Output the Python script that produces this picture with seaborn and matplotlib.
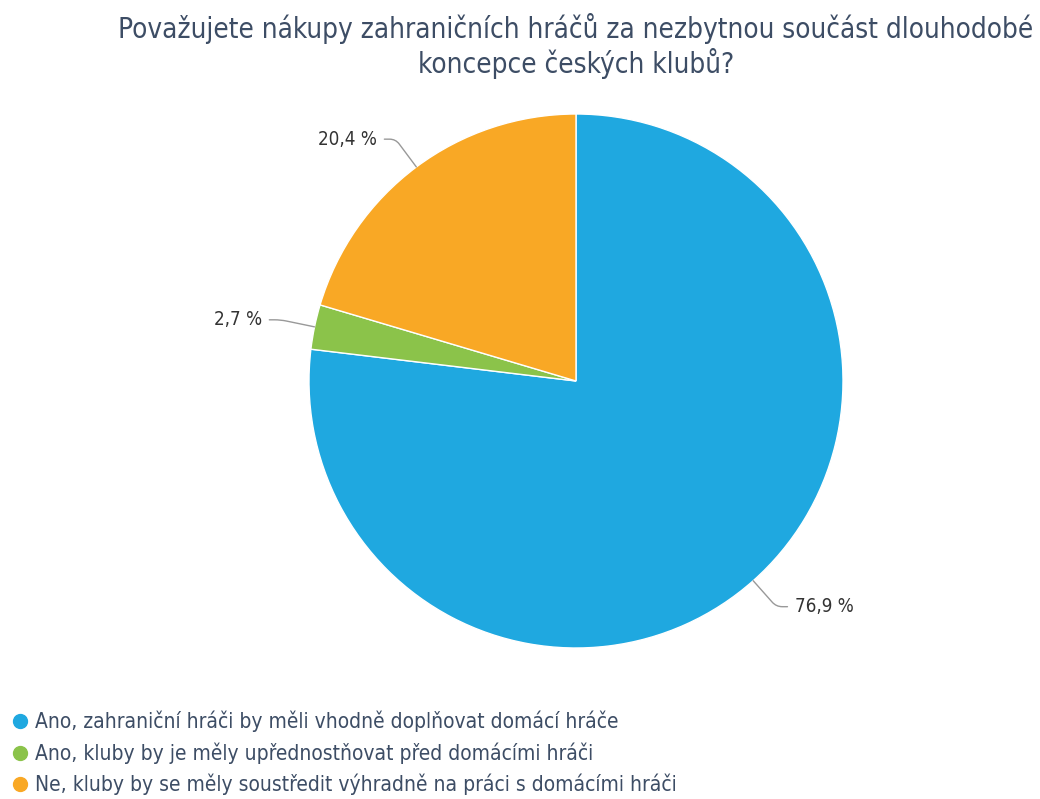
import numpy as np
import matplotlib
matplotlib.use("Agg")
import matplotlib.pyplot as plt
from matplotlib.lines import Line2D
import seaborn as sns

sns.set_theme(style="white")
plt.rcParams['font.family'] = ['DejaVu Sans']
plt.rcParams['font.stretch'] = 'condensed'

# data
categories = [
    "Ano, zahraniční hráči by měli vhodně doplňovat domácí hráče",
    "Ano, kluby by je měly upřednostňovat před domácími hráči",
    "Ne, kluby by se měly soustředit výhradně na práci s domácími hráči",
]
shares = [76.9, 2.7, 20.4]
colors = ["#1fa8e0", "#8bc34a", "#f9a825"]
title = "Považujete nákupy zahraničních hráčů za nezbytnou součást dlouhodobé\nkoncepce českých klubů?"

W, H = 1040, 799
fig = plt.figure(figsize=(W / 100, H / 100), dpi=100)

# pie axes: centre ~(576,381) px, radius ~267 px
cx, cy, r = 576, 381, 267
ax = fig.add_axes([(cx - r) / W, (H - cy - r) / H, 2 * r / W, 2 * r / H])
wedges, _ = ax.pie(shares, colors=colors, startangle=90, counterclock=False,
                   wedgeprops=dict(edgecolor="white", linewidth=1))
ax.set_xlim(-1, 1)
ax.set_ylim(-1, 1)
ax.set_aspect("equal")
ax.axis("off")

# percentage labels with elbow connectors
for w, val in zip(wedges, shares):
    ang = (w.theta1 + w.theta2) / 2
    a = np.deg2rad(ang)
    x, y = np.cos(a), np.sin(a)
    ex, ey = 1.13 * x, 1.13 * y
    side = 1 if x > 0 else -1
    tx = ex + side * 0.07
    ax.annotate(f"{val:.1f} %".replace(".", ","), xy=(x, y), xytext=(tx, ey),
                ha="left" if side > 0 else "right", va="center",
                fontsize=13.5, color="#333333", annotation_clip=False,
                arrowprops=dict(arrowstyle="-", color="#999999", lw=1,
                                shrinkA=3, shrinkB=0,
                                connectionstyle=f"angle,angleA=0,angleB={ang},rad=6"))

fig.suptitle(title, x=cx / W, y=0.984, fontsize=20, color="#3d4d65", linespacing=1.15)

handles = [Line2D([0], [0], marker="o", linestyle="", markersize=10,
                  markerfacecolor=c, markeredgecolor=c) for c in colors]
fig.legend(handles, categories, loc="lower left", bbox_to_anchor=(0.002, -0.006),
           frameon=False, fontsize=15, handletextpad=0.3, labelspacing=0.48,
           handlelength=0.9, labelcolor="#3d4d65", borderaxespad=0.0)

fig.savefig("out.png", dpi=100, facecolor="white")
